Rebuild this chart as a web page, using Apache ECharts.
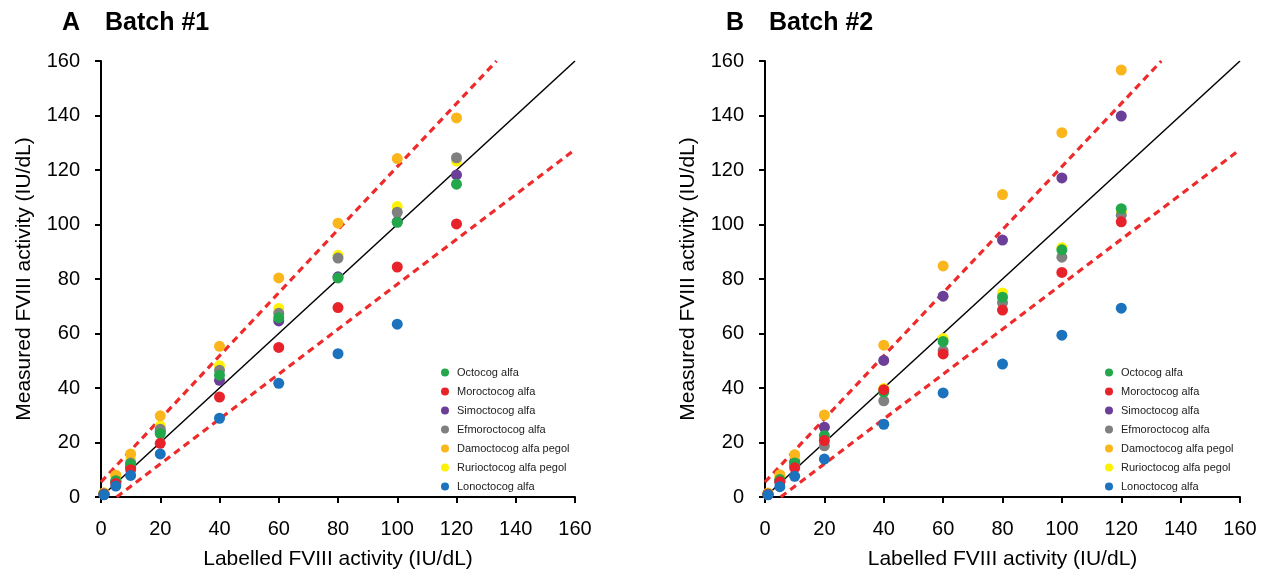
<!DOCTYPE html>
<html>
<head>
<meta charset="utf-8">
<script src="https://cdn.jsdelivr.net/npm/echarts@6/dist/echarts.min.js"></script>
<style>
  html, body { margin: 0; padding: 0; background: #fff; }
  #chart { width: 1266px; height: 575px; }
</style>
</head>
<body>
<div id="chart"></div>
<script>
// Labelled FVIII activity levels (IU/dL) tested for every product
const labelled = [1, 5, 10, 20, 40, 60, 80, 100, 120];

const productNames = [
  'Octocog alfa', 'Moroctocog alfa', 'Simoctocog alfa', 'Efmoroctocog alfa',
  'Damoctocog alfa pegol', 'Rurioctocog alfa pegol', 'Lonoctocog alfa'
];
const productColors = ['#22a84a', '#e8222a', '#6b3f98', '#808080', '#fbb61b', '#fff200', '#1b72bd'];

// Batch #1: measured FVIII activity (IU/dL)
const batch1Octocog      = [1.0, 6.0, 12.0, 23.3, 44.7, 65.8, 80.4, 100.8, 114.8];
const batch1Moroctocog   = [1.0, 5.0, 10.0, 19.7, 36.7, 54.9, 69.5, 84.4, 100.2];
const batch1Simoctocog   = [1.0, 5.5, 10.9, 24.0, 42.8, 64.6, 80.8, 101.0, 118.2];
const batch1Efmoroctocog = [1.2, 5.8, 12.5, 24.9, 46.5, 67.4, 87.7, 104.5, 124.5];
const batch1Damoctocog   = [1.5, 8.0, 15.8, 29.8, 55.3, 80.4, 100.5, 124.2, 139.1];
const batch1Rurioctocog  = [1.5, 7.9, 14.0, 26.1, 48.2, 69.2, 88.7, 106.6, 123.3];
const batch1Lonoctocog   = [0.8, 4.0, 7.9, 15.8, 28.9, 41.7, 52.6, 63.4];

// Batch #2: measured FVIII activity (IU/dL)
const batch2Octocog      = [1.0, 6.4, 12.5, 22.5, 38.5, 57.1, 73.3, 90.7, 105.8];
const batch2Moroctocog   = [1.0, 5.6, 10.7, 20.7, 39.4, 52.5, 68.6, 82.4, 101.0];
const batch2Simoctocog   = [1.0, 6.0, 12.8, 25.6, 50.1, 73.7, 94.3, 117.1, 139.8];
const batch2Efmoroctocog = [1.0, 5.5, 11.5, 18.8, 35.3, 53.7, 71.3, 88.0, 103.4];
const batch2Damoctocog   = [1.5, 8.2, 15.5, 30.1, 55.7, 84.8, 111.0, 133.7, 156.7];
const batch2Rurioctocog  = [1.2, 7.5, 13.5, 21.5, 39.8, 58.2, 74.9, 91.5, 104.5];
const batch2Lonoctocog   = [0.8, 3.8, 7.6, 13.9, 26.7, 38.2, 48.8, 59.4, 69.3];

// Reference lines: identity and the upper / lower acceptance limits
const identityLine = [[0, 0], [160, 160]];
const upperLimit   = [[0, 5.5], [133.5, 160]];
const lowerLimit   = [[5.3, 0], [160, 127.5]];

const axisTicks = [0, 20, 40, 60, 80, 100, 120, 140, 160];

const batch1 = [batch1Octocog, batch1Moroctocog, batch1Simoctocog, batch1Efmoroctocog,
                batch1Damoctocog, batch1Rurioctocog, batch1Lonoctocog];
const batch2 = [batch2Octocog, batch2Moroctocog, batch2Simoctocog, batch2Efmoroctocog,
                batch2Damoctocog, batch2Rurioctocog, batch2Lonoctocog];

const FONT = "'Liberation Sans', Arial, Helvetica, sans-serif";
// drawing order, bottom to top
const drawOrder = [5, 2, 4, 3, 0, 1, 6];

function pairs(values) {
  return values.map((v, i) => [labelled[i], v]);
}

function axis(name, isX) {
  return {
    type: 'value',
    min: axisTicks[0],
    max: axisTicks[axisTicks.length - 1],
    interval: axisTicks[1] - axisTicks[0],
    name: name,
    nameLocation: 'middle',
    nameGap: isX ? 52 : 66,
    nameTextStyle: { fontFamily: FONT, fontSize: 21, color: '#000' },
    axisLine: { show: true, onZero: false, lineStyle: { color: '#000', width: 2 } },
    axisTick: { show: true, length: 6, inside: false, lineStyle: { color: '#000', width: 2 } },
    axisLabel: { fontFamily: FONT, fontSize: 20, color: '#000', margin: isX ? 22 : 21 },
    splitLine: { show: false }
  };
}

const grids = [
  { left: 101, top: 61, width: 474, height: 439 },
  { left: 765, top: 61, width: 475, height: 439 }
];

const series = [];
[batch1, batch2].forEach((batch, g) => {
  series.push({
    type: 'line', xAxisIndex: g, yAxisIndex: g, data: identityLine,
    symbol: 'none', silent: true, z: 1,
    lineStyle: { color: '#000', width: 1.5 }
  });
  [upperLimit, lowerLimit].forEach(lim => {
    series.push({
      type: 'line', xAxisIndex: g, yAxisIndex: g, data: lim,
      symbol: 'none', silent: true, z: 1,
      lineStyle: { color: '#ee2a2a', width: 3.2, type: [7, 5] }
    });
  });
  drawOrder.forEach((k, order) => {
    series.push({
      name: productNames[k],
      type: 'scatter', xAxisIndex: g, yAxisIndex: g,
      data: pairs(batch[k]),
      symbol: 'circle', symbolSize: 11,
      z: 3 + order,
      itemStyle: { color: productColors[k], opacity: 1 }
    });
  });
});

function legend(left) {
  return {
    data: productNames.map(n => ({ name: n, icon: 'circle' })),
    orient: 'vertical',
    left: left, top: 362,
    itemWidth: 8, itemHeight: 8, itemGap: 8,
    selectedMode: false,
    textStyle: { fontFamily: FONT, fontSize: 11, color: '#222', padding: [0, 0, 0, 3] }
  };
}

const titleStyle = { fontFamily: FONT, fontSize: 25, fontWeight: 'bold', color: '#000' };

const chart = echarts.init(document.getElementById('chart'), null, { renderer: 'canvas' });
chart.setOption({
  animation: false,
  backgroundColor: '#fff',
  color: productColors,
  title: [
    { text: 'A', left: 57, top: 6, textStyle: titleStyle },
    { text: 'Batch #1', left: 100, top: 6, textStyle: titleStyle },
    { text: 'B', left: 721, top: 6, textStyle: titleStyle },
    { text: 'Batch #2', left: 764, top: 6, textStyle: titleStyle }
  ],
  legend: [legend(436), legend(1100)],
  grid: grids,
  xAxis: [axis('Labelled FVIII activity (IU/dL)', true), Object.assign(axis('Labelled FVIII activity (IU/dL)', true), { gridIndex: 1 })],
  yAxis: [axis('Measured FVIII activity (IU/dL)', false), Object.assign(axis('Measured FVIII activity (IU/dL)', false), { gridIndex: 1 })],
  series: series
});
</script>
</body>
</html>
